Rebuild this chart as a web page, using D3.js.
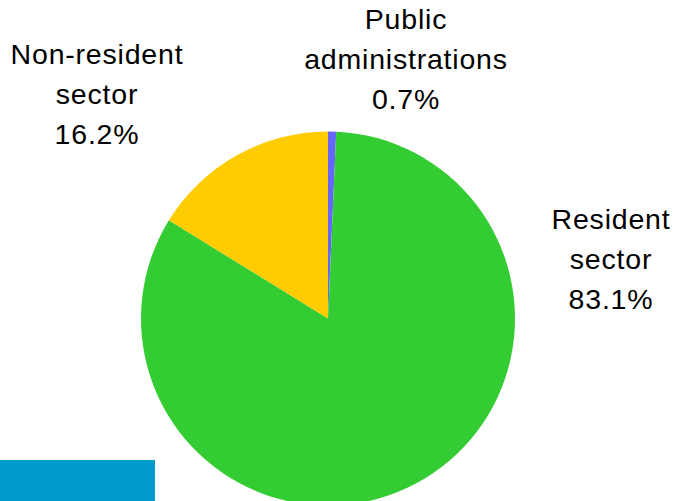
<!DOCTYPE html>
<html>
<head>
<meta charset="utf-8">
<script src="https://cdn.jsdelivr.net/npm/d3@7"></script>
<style>
  html, body { margin: 0; padding: 0; background: #ffffff; }
  svg { display: block; }
  text { font-family: "Liberation Sans", Arial, sans-serif; fill: #000; }
</style>
</head>
<body>
<svg id="chart" width="675" height="501"></svg>
<script>
// Sector breakdown (percent of total), in drawing order clockwise from 12 o'clock
const categories = ["Public administrations", "Resident sector", "Non-resident sector"];
const shares = [0.7, 83.1, 16.2];
const labelLines = [["Public", "administrations"], ["Resident", "sector"], ["Non-resident", "sector"]];
const colors = ["#6666FF", "#33CC33", "#FFCC00"];

const W = 675, H = 501;
const cx = 328, cy = 318.5, radius = 187;

// Label block anchors (centre x, first baseline y) per category
const labelAnchor = [
  { x: 406, y: 29 },
  { x: 611, y: 229 },
  { x: 97, y: 64 }
];
const lineGap = 40;

const svg = d3.select("#chart");

// Decorative band at the lower left
svg.append("rect")
  .attr("x", 0).attr("y", 460)
  .attr("width", 155).attr("height", H - 460)
  .attr("fill", "#009BCD");

const data = categories.map((c, i) => ({ name: c, value: shares[i], color: colors[i], lines: labelLines[i] }));

const pie = d3.pie().sort(null).value(d => d.value);
const arc = d3.arc().innerRadius(0).outerRadius(radius);

const g = svg.append("g").attr("transform", `translate(${cx},${cy})`);
g.selectAll("path")
  .data(pie(data))
  .join("path")
  .attr("d", arc)
  .attr("fill", d => d.data.color);

// Labels: name lines followed by the percentage
const labels = svg.selectAll("text.lbl")
  .data(data)
  .join("text")
  .attr("class", "lbl")
  .attr("text-anchor", "middle")
  .style("font-size", "28.5px")
  .style("letter-spacing", "0.8px");

labels.each(function (d, i) {
  const t = d3.select(this);
  const a = labelAnchor[i];
  const rows = d.lines.concat([d3.format(".1f")(d.value) + "%"]);
  rows.forEach((r, k) => {
    t.append("tspan").attr("x", a.x).attr("y", a.y + k * lineGap).text(r);
  });
});
</script>
</body>
</html>
